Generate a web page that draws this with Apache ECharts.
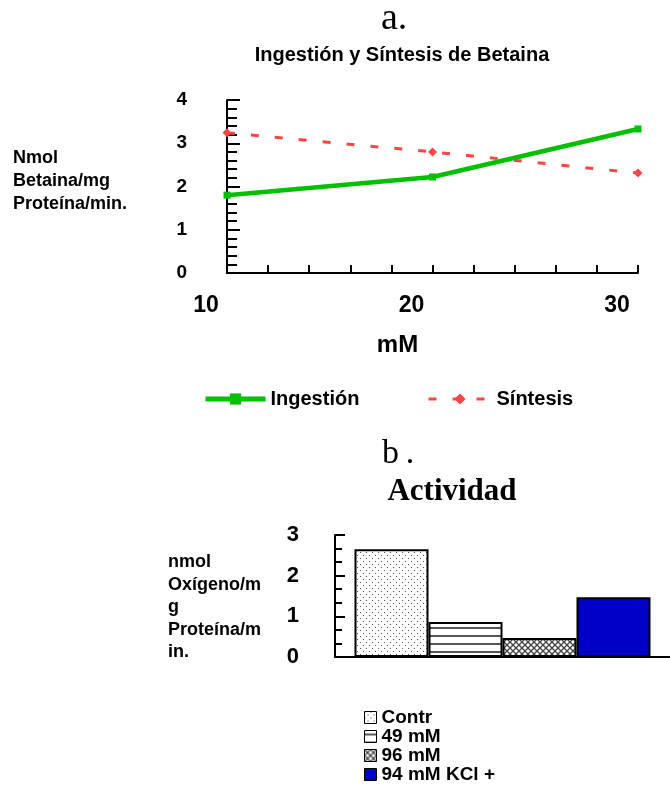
<!DOCTYPE html>
<html lang="es">
<head>
    <meta charset="utf-8">
    <title>Ingestión y Síntesis de Betaina / Actividad</title>
    <script src="https://cdn.jsdelivr.net/npm/echarts@6/dist/echarts.min.js"></script>
    <style>
        html, body { margin: 0; padding: 0; background: #fff; }
        #main { width: 670px; height: 791px; }
    </style>
</head>
<body>
<div id="main"></div>

<script type="text/javascript">
    // datos del panel a (mM vs nmol betaina/mg proteina/min)
    var conc = [10, 20, 30];
    var ingestion = [1.80, 2.22, 3.33];
    var sintesis = [3.24, 2.80, 2.31];

    // datos del panel b (actividad)
    var grupos = ['Contr', '49 mM', '96 mM', '94 mM KCl +'];
    var actividad = [2.65, 0.86, 0.47, 1.47];

    var sans = '"Liberation Sans", Arial, sans-serif';
    var serif = '"Liberation Serif", "Times New Roman", serif';

    // tramas de relleno para las barras
    function trama(tipo) {
        var c = document.createElement('canvas');
        var ctx = c.getContext('2d');
        var x, y;
        if (tipo === 'puntos') {
            c.width = 6; c.height = 6;
            ctx.fillStyle = '#fff'; ctx.fillRect(0, 0, 6, 6);
            ctx.fillStyle = '#555';
            ctx.fillRect(0, 0, 1, 1);
            ctx.fillRect(3, 3, 1, 1);
        } else if (tipo === 'rayas') {
            c.width = 8; c.height = 8;
            ctx.fillStyle = '#fff'; ctx.fillRect(0, 0, 8, 8);
            ctx.fillStyle = '#555';
            ctx.fillRect(0, 3, 8, 2);
        } else {
            c.width = 6; c.height = 6;
            ctx.fillStyle = '#fff'; ctx.fillRect(0, 0, 6, 6);
            for (y = 0; y < 6; y++) {
                for (x = 0; x < 6; x++) {
                    if (x === y || x + y === 5) {
                        ctx.fillStyle = '#444';
                        ctx.fillRect(x, y, 1, 1);
                    } else if (Math.abs(x - y) === 1 || Math.abs(x + y - 5) === 1) {
                        ctx.fillStyle = '#aaa';
                        ctx.fillRect(x, y, 1, 1);
                    }
                }
            }
        }
        return { image: c, repeat: 'repeat' };
    }

    var rellenos = [trama('puntos'), trama('rayas'), trama('cruz'), '#0000c8'];

    var myChart = echarts.init(document.getElementById('main'));

    var barras = grupos.map(function (g, i) {
        return {
            name: g,
            type: 'bar',
            xAxisIndex: 1,
            yAxisIndex: 1,
            barWidth: 74,
            barGap: '0%',
            itemStyle: { color: rellenos[i], borderColor: '#000', borderWidth: 2 },
            data: [actividad[i]]
        };
    });

    myChart.setOption({
        animation: false,
        title: [{
            text: 'a.',
            left: 376, top: -5,
            textStyle: { fontFamily: serif, fontWeight: 'normal', fontSize: 38, color: '#000' }
        }, {
            text: 'Ingestión y Síntesis de Betaina',
            left: 397, top: 40, textAlign: 'center',
            textStyle: { fontFamily: sans, fontWeight: 'bold', fontSize: 20, color: '#000' }
        }, {
            text: 'b\u2009.',
            left: 377, top: 432,
            textStyle: { fontFamily: serif, fontWeight: 'normal', fontSize: 34, color: '#000' }
        }, {
            text: 'Actividad',
            left: 447, top: 471, textAlign: 'center',
            textStyle: { fontFamily: serif, fontWeight: 'bold', fontSize: 31, color: '#000' }
        }],
        legend: [{
            data: ['Ingestión'],
            left: 203, top: 389, padding: 0,
            itemWidth: 60, itemHeight: 14,
            lineStyle: { width: 5 },
            textStyle: { fontFamily: sans, fontWeight: 'bold', fontSize: 20, color: '#000' }
        }, {
            data: ['Síntesis'],
            left: 427, top: 389, padding: 0,
            itemWidth: 63, itemHeight: 14,
            lineStyle: { width: 3 },
            textStyle: { fontFamily: sans, fontWeight: 'bold', fontSize: 20, color: '#000' }
        }, {
            data: grupos,
            orient: 'vertical',
            left: 364, top: 708, padding: 0,
            icon: 'rect',
            itemWidth: 12, itemHeight: 12, itemGap: 0,
            itemStyle: { borderColor: '#000', borderWidth: 1 },
            textStyle: { fontFamily: sans, fontWeight: 'bold', fontSize: 19, color: '#000' }
        }],
        graphic: [{
            type: 'text', left: 13, top: 147,
            style: { text: 'Nmol\nBetaina/mg\nProteína/min.', font: 'bold 18px ' + sans, lineHeight: 23, fill: '#000' }
        }, {
            type: 'text', left: 168, top: 551,
            style: { text: 'nmol\nOxígeno/m\ng\nProteína/m\nin.', font: 'bold 18px ' + sans, lineHeight: 22.5, fill: '#000' }
        }],
        grid: [
            { left: 227, top: 100, width: 411, height: 173 },
            { left: 335, top: 535, right: 0, height: 122 }
        ],
        xAxis: [{
            gridIndex: 0,
            type: 'value',
            min: 10, max: 30, interval: 10,
            name: 'mM', nameLocation: 'middle', nameGap: 60,
            nameTextStyle: { fontFamily: sans, fontWeight: 'bold', fontSize: 24, color: '#000', padding: [0, 0, 0, -70] },
            axisLine: { show: true, lineStyle: { color: '#000', width: 2 } },
            axisTick: { show: true, inside: true, length: 8, lineStyle: { color: '#000', width: 2 } },
            minorTick: { show: true, splitNumber: 5, length: 8, lineStyle: { color: '#000', width: 2 } },
            splitLine: { show: false },
            axisLabel: { margin: 21, fontFamily: sans, fontWeight: 'bold', fontSize: 23, color: '#000', padding: [0, 42, 0, 0] }
        }, {
            gridIndex: 1,
            type: 'category',
            data: [''],
            axisLine: { show: true, lineStyle: { color: '#000', width: 2 } },
            axisTick: { show: false },
            axisLabel: { show: false }
        }],
        yAxis: [{
            gridIndex: 0,
            type: 'value',
            min: 0, max: 4, interval: 1,
            axisLine: { show: true, lineStyle: { color: '#000', width: 2 } },
            axisTick: { show: true, inside: true, length: 13, lineStyle: { color: '#000', width: 2 } },
            minorTick: { show: true, splitNumber: 5, length: 10, lineStyle: { color: '#000', width: 2 } },
            splitLine: { show: false },
            axisLabel: { margin: 40, fontFamily: sans, fontWeight: 'bold', fontSize: 19, color: '#000' }
        }, {
            gridIndex: 1,
            type: 'value',
            min: 0, max: 3, interval: 1,
            axisLine: { show: true, lineStyle: { color: '#000', width: 2 } },
            axisTick: { show: true, inside: true, length: 10, lineStyle: { color: '#000', width: 2 } },
            minorTick: { show: true, splitNumber: 3, length: 7, lineStyle: { color: '#000', width: 2 } },
            splitLine: { show: false },
            axisLabel: { margin: 36, fontFamily: sans, fontWeight: 'bold', fontSize: 22, color: '#000' }
        }],
        series: [{
            name: 'Ingestión',
            type: 'line',
            xAxisIndex: 0, yAxisIndex: 0,
            symbol: 'rect', symbolSize: 7,
            lineStyle: { color: '#00c000', width: 4.5 },
            itemStyle: { color: '#00c000' },
            data: conc.map(function (x, i) { return [x, ingestion[i]]; })
        }, {
            name: 'Síntesis',
            type: 'line',
            xAxisIndex: 0, yAxisIndex: 0,
            symbol: 'diamond', symbolSize: 9,
            lineStyle: { color: '#ff4444', width: 3, type: [8, 16] },
            itemStyle: { color: '#ff4444' },
            data: conc.map(function (x, i) { return [x, sintesis[i]]; })
        }].concat(barras)
    });
</script>
</body>
</html>
